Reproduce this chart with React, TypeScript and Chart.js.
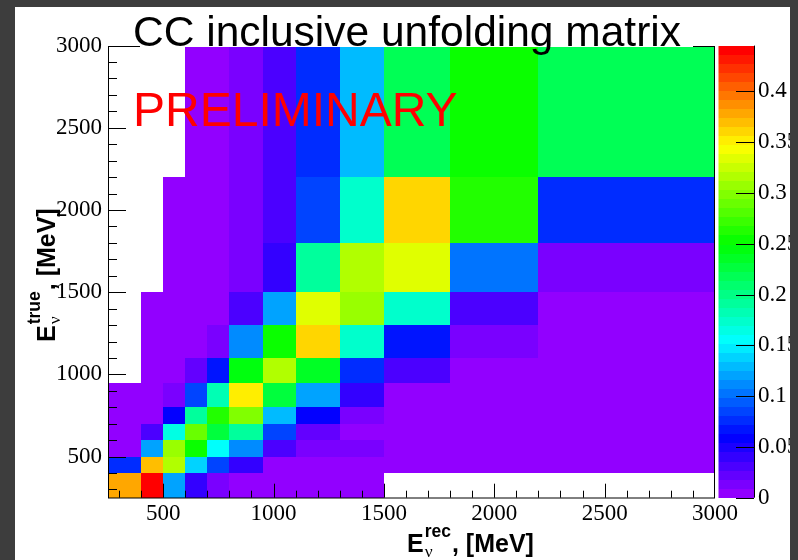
import { useEffect, useRef } from "react";
import { Chart, registerables } from "chart.js";

Chart.register(...registerables);

// Variable-width energy bins in MeV (same binning on both axes)
const recEdges = [250, 400, 500, 600, 700, 800, 950, 1100, 1300, 1500, 1800, 2200, 3000];
const trueEdges = [250, 400, 500, 600, 700, 800, 950, 1100, 1300, 1500, 1800, 2200, 3000];

// Matrix content, one array per true-energy bin, one entry per reconstructed bin
const true250to400 = [0.378, 0.445, 0.12, 0.04, 0.013, 0.004, 0.004, 0.004, 0.004, 0, 0, 0];
const true400to500 = [0.076, 0.369, 0.316, 0.138, 0.085, 0.04, 0.004, 0.004, 0.004, 0.004, 0.004, 0.004];
const true500to600 = [0.004, 0.12, 0.307, 0.254, 0.156, 0.111, 0.031, 0.013, 0.013, 0.004, 0.004, 0.004];
const true600to700 = [0.004, 0.031, 0.165, 0.289, 0.227, 0.191, 0.085, 0.022, 0.004, 0.004, 0.004, 0.004];
const true700to800 = [0.004, 0.004, 0.058, 0.191, 0.262, 0.298, 0.129, 0.058, 0.013, 0.004, 0.004, 0.004];
const true800to950 = [0.004, 0.004, 0.013, 0.085, 0.182, 0.351, 0.227, 0.12, 0.04, 0.004, 0.004, 0.004];
const true950to1100 = [0, 0.004, 0.004, 0.022, 0.067, 0.245, 0.316, 0.236, 0.076, 0.031, 0.004, 0.004];
const true1100to1300 = [0, 0.004, 0.004, 0.004, 0.013, 0.111, 0.254, 0.36, 0.174, 0.067, 0.013, 0.004];
const true1300to1500 = [0, 0.004, 0.004, 0.004, 0.004, 0.031, 0.12, 0.334, 0.307, 0.174, 0.031, 0.004];
const true1500to1800 = [0, 0, 0.004, 0.004, 0.004, 0.013, 0.04, 0.191, 0.316, 0.334, 0.102, 0.013];
const true1800to2200 = [0, 0, 0.004, 0.004, 0.004, 0.013, 0.031, 0.085, 0.174, 0.36, 0.262, 0.076];
const true2200to3000 = [0, 0, 0, 0.004, 0.004, 0.013, 0.031, 0.076, 0.129, 0.218, 0.254, 0.218];

const matrixRows = [
  true250to400, true400to500, true500to600, true600to700, true700to800, true800to950,
  true950to1100, true1100to1300, true1300to1500, true1500to1800, true1800to2200, true2200to3000,
];

// Axis ticks
const energyTicks = [500, 1000, 1500, 2000, 2500, 3000];
const energyTickLabels = ["500", "1000", "1500", "2000", "2500", "3000"];
const paletteTicks = [0, 0.05, 0.1, 0.15, 0.2, 0.25, 0.3, 0.35, 0.4];
const paletteTickLabels = ["0", "0.05", "0.1", "0.15", "0.2", "0.25", "0.3", "0.35", "0.4"];

const titleText = "CC inclusive unfolding matrix";
const stampText = "PRELIMINARY";

const zMax = Math.max(...matrixRows.flat());
const paletteLevels = 50;

// ROOT "pretty" palette: hue sweeps from violet down to red at full saturation
function levelColor(k: number) {
  const hue = 280 - (k + 1) * (280 / paletteLevels);
  return `hsl(${hue}, 100%, 50%)`;
}
function valueColor(v: number) {
  let k = Math.floor((v / zMax) * paletteLevels);
  if (k > paletteLevels - 1) k = paletteLevels - 1;
  if (k < 0) k = 0;
  return levelColor(k);
}

const SANS = '"Liberation Sans", Arial, sans-serif';
const SERIF = '"Liberation Serif", "Times New Roman", serif';

// Draws "E_nu^{sup}, [MeV]" starting at the current origin, on the baseline
function drawEnergyTitle(ctx: CanvasRenderingContext2D, sup: string, size: number) {
  ctx.fillStyle = "#000";
  ctx.textBaseline = "alphabetic";
  ctx.textAlign = "left";
  ctx.font = `bold ${size}px ${SANS}`;
  ctx.fillText("E", 0, 0);
  let x = ctx.measureText("E").width + 1;
  const small = size * 0.7;
  ctx.font = `${small}px ${SERIF}`;
  ctx.fillText("\u03bd", x, size * 0.2);
  const wNu = ctx.measureText("\u03bd").width;
  ctx.font = `bold ${small}px ${SANS}`;
  ctx.fillText(sup, x, -size * 0.6);
  const wSup = ctx.measureText(sup).width;
  x += Math.max(wNu, wSup) + 1;
  ctx.font = `bold ${size}px ${SANS}`;
  ctx.fillText(", [MeV]", x, 0);
}

const matrixPlugin = {
  id: "unfoldingMatrix",
  beforeDraw(chart: any) {
    const { ctx, width, height } = chart;
    ctx.save();
    ctx.fillStyle = "#ffffff";
    ctx.fillRect(0, 0, width, height);
    ctx.restore();
  },
  beforeDatasetsDraw(chart: any) {
    const { ctx } = chart;
    const xs = chart.scales.x;
    const ys = chart.scales.y;
    ctx.save();
    matrixRows.forEach((row, j) => {
      const yTop = Math.round(ys.getPixelForValue(trueEdges[j + 1]));
      const yBot = Math.round(ys.getPixelForValue(trueEdges[j]));
      row.forEach((v, i) => {
        if (v <= 0) return;
        const xL = Math.round(xs.getPixelForValue(recEdges[i]));
        const xR = Math.round(xs.getPixelForValue(recEdges[i + 1]));
        ctx.fillStyle = valueColor(v);
        ctx.fillRect(xL, yTop, xR - xL, yBot - yTop);
      });
    });
    ctx.restore();
  },
  afterDraw(chart: any) {
    const { ctx, chartArea, width, height } = chart;
    const xs = chart.scales.x;
    const ys = chart.scales.y;
    const zs = chart.scales.palette;
    const { left, right, top, bottom } = chartArea;
    ctx.save();

    // frame
    ctx.strokeStyle = "#000";
    ctx.lineWidth = 1;
    ctx.strokeRect(Math.round(left) + 0.5, Math.round(top) + 0.5, Math.round(right - left) - 1, Math.round(bottom - top) - 0.5);

    // inner ticks: majors every 500 MeV, minors every 100 MeV
    ctx.beginPath();
    for (let v = 300; v < 3000; v += 100) {
      const major = v % 500 === 0;
      const px = Math.round(xs.getPixelForValue(v)) + 0.5;
      ctx.moveTo(px, bottom);
      ctx.lineTo(px, bottom - (major ? 14 : 7));
      const py = Math.round(ys.getPixelForValue(v)) + 0.5;
      ctx.moveTo(left, py);
      ctx.lineTo(left + (major ? 18 : 9), py);
    }
    ctx.stroke();

    // colour palette bar
    const barL = right + 3.5;
    const barR = right + 39;
    for (let k = 0; k < paletteLevels; k++) {
      const y0 = Math.round(zs.getPixelForValue((k * zMax) / paletteLevels));
      const y1 = Math.round(zs.getPixelForValue(((k + 1) * zMax) / paletteLevels));
      ctx.fillStyle = levelColor(k);
      ctx.fillRect(barL, y1, barR - barL, y0 - y1);
    }
    ctx.beginPath();
    ctx.moveTo(Math.round(barR) + 0.5, zs.top);
    ctx.lineTo(Math.round(barR) + 0.5, zs.bottom);
    paletteTicks.forEach((t) => {
      const py = Math.round(zs.getPixelForValue(t)) + 0.5;
      ctx.moveTo(barR - 18, py);
      ctx.lineTo(barR, py);
    });
    ctx.stroke();

    // title box and title
    ctx.fillStyle = "#ffffff";
    ctx.fillRect(140, 8, 553, Math.round(top) + 1 - 8);
    ctx.fillStyle = "#000";
    ctx.font = `42.5px ${SANS}`;
    ctx.textAlign = "left";
    ctx.textBaseline = "alphabetic";
    ctx.fillText(titleText, 133, 45.5);

    // preliminary stamp
    ctx.fillStyle = "#ff0000";
    ctx.font = `48px ${SANS}`;
    ctx.fillText(stampText, 133, 126);

    // axis titles
    ctx.save();
    ctx.translate(407, 552);
    drawEnergyTitle(ctx, "rec", 25);
    ctx.restore();

    ctx.save();
    ctx.translate(55, 342);
    ctx.rotate(-Math.PI / 2);
    drawEnergyTitle(ctx, "true", 25);
    ctx.restore();

    // surrounding dark border
    ctx.fillStyle = "#3d3d3d";
    ctx.fillRect(0, 0, width, 7);
    ctx.fillRect(0, 0, 15, height);
    ctx.fillRect(790, 0, width - 790, height);
    ctx.restore();
  },
};

const tickFont = { family: SERIF, size: 23 };

export default function App() {
  const canvasRef = useRef<HTMLCanvasElement>(null);

  useEffect(() => {
    document.body.style.margin = "0";
    const canvas = canvasRef.current;
    if (!canvas) return;
    const chart = new Chart(canvas, {
      type: "scatter",
      data: { datasets: [{ data: [], xAxisID: "x", yAxisID: "y" }] },
      options: {
        responsive: false,
        animation: false,
        devicePixelRatio: 1,
        layout: { padding: { top: 45.6, left: 0, right: 0, bottom: 0 } },
        plugins: {
          legend: { display: false },
          tooltip: { enabled: false },
          title: { display: false },
        },
        scales: {
          x: {
            type: "linear",
            position: "bottom",
            min: recEdges[0],
            max: recEdges[recEdges.length - 1],
            grid: { display: false, drawTicks: false },
            border: { display: false },
            afterBuildTicks: (s: any) => {
              s.ticks = energyTicks.map((value) => ({ value }));
            },
            ticks: {
              font: tickFont,
              color: "#000",
              padding: 2,
              maxRotation: 0,
              autoSkip: false,
              callback: (v: any) => energyTickLabels[energyTicks.indexOf(Number(v))] ?? "",
            },
            afterFit: (s: any) => {
              s.height = 62.3;
            },
          },
          y: {
            type: "linear",
            position: "left",
            min: trueEdges[0],
            max: trueEdges[trueEdges.length - 1],
            grid: { display: false, drawTicks: false },
            border: { display: false },
            afterBuildTicks: (s: any) => {
              s.ticks = energyTicks.map((value) => ({ value }));
            },
            ticks: {
              font: tickFont,
              color: "#000",
              padding: 6,
              autoSkip: false,
              callback: (v: any) => energyTickLabels[energyTicks.indexOf(Number(v))] ?? "",
            },
            afterFit: (s: any) => {
              s.width = 108;
              s.paddingTop = 0;
              s.paddingBottom = 0;
            },
          },
          palette: {
            type: "linear",
            axis: "y",
            position: "right",
            min: 0,
            max: zMax,
            grid: { display: false, drawTicks: false },
            border: { display: false },
            afterBuildTicks: (s: any) => {
              s.ticks = paletteTicks.map((value) => ({ value }));
            },
            ticks: {
              font: tickFont,
              color: "#000",
              padding: 43,
              autoSkip: false,
              callback: (v: any) => paletteTickLabels[paletteTicks.indexOf(Number(v))] ?? "",
            },
            afterFit: (s: any) => {
              s.width = 83;
              s.paddingTop = 0;
              s.paddingBottom = 0;
            },
          },
        },
      } as any,
      plugins: [matrixPlugin],
    });
    return () => chart.destroy();
  }, []);

  return (
    <div style={{ position: "fixed", left: 0, top: 0, width: 798, height: 560 }}>
      <canvas ref={canvasRef} width={798} height={560} style={{ display: "block", width: 798, height: 560 }} />
    </div>
  );
}
